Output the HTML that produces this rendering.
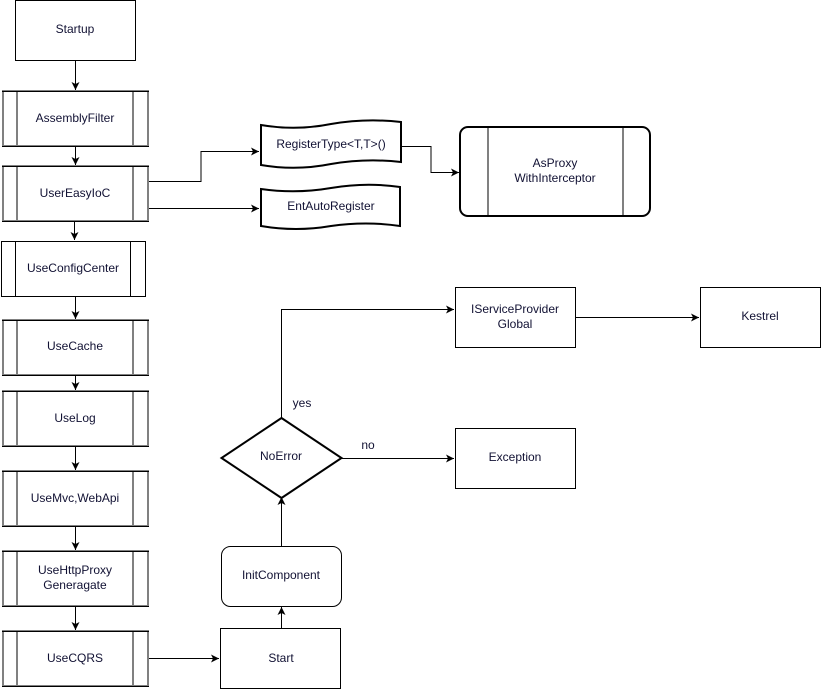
<!DOCTYPE html>
<html><head><meta charset="utf-8"><style>
html,body{margin:0;padding:0;background:#fff;}
svg{display:block;}
text{font-family:"Liberation Sans",sans-serif;font-size:12px;fill:#111133;text-anchor:middle;}
</style></head><body>
<svg width="821" height="690" viewBox="0 0 821 690" xmlns="http://www.w3.org/2000/svg">
<defs>
<marker id="a" markerWidth="10" markerHeight="10" refX="9" refY="5" orient="auto" markerUnits="userSpaceOnUse">
<path d="M1,1 L9,5 L1,9 L3,5 Z" fill="#000"/></marker>
</defs>
<g fill="none" stroke="#000" stroke-width="1">
<rect x="15.5" y="0.5" width="120" height="60"/>
<line x1="75.5" y1="60" x2="75.5" y2="90" marker-end="url(#a)"/>
<line x1="75.5" y1="146" x2="75.5" y2="165" marker-end="url(#a)"/>
<line x1="74.5" y1="221" x2="74.5" y2="240" marker-end="url(#a)"/>
<line x1="75.5" y1="296" x2="75.5" y2="319" marker-end="url(#a)"/>
<line x1="75.5" y1="375" x2="75.5" y2="390" marker-end="url(#a)"/>
<line x1="75.5" y1="446" x2="75.5" y2="470" marker-end="url(#a)"/>
<line x1="75.5" y1="526" x2="75.5" y2="550" marker-end="url(#a)"/>
<line x1="75.5" y1="606" x2="75.5" y2="630" marker-end="url(#a)"/>
<polyline points="148,181.5 201,181.5 201,151.5 259,151.5" marker-end="url(#a)"/>
<polyline points="148,208.5 259,208.5" marker-end="url(#a)"/>
<polyline points="402,146.5 431,146.5 431,172.5 459,172.5" marker-end="url(#a)"/>
<polyline points="148,658.5 219,658.5" marker-end="url(#a)"/>
<line x1="281.5" y1="628" x2="281.5" y2="607" marker-end="url(#a)"/>
<line x1="281.5" y1="546" x2="281.5" y2="497" marker-end="url(#a)"/>
<polyline points="281.5,418 281.5,309.5 454,309.5" marker-end="url(#a)"/>
<line x1="341" y1="458.5" x2="454" y2="458.5" marker-end="url(#a)"/>
<line x1="575" y1="317.5" x2="699" y2="317.5" marker-end="url(#a)"/>
</g>
<g fill="#fff" stroke="#808080" stroke-width="2">
<rect x="3" y="91" width="145" height="55"/><line x1="17" y1="91" x2="17" y2="146"/><line x1="133" y1="91" x2="133" y2="146"/>
<rect x="3" y="166" width="145" height="55"/><line x1="17" y1="166" x2="17" y2="221"/><line x1="133" y1="166" x2="133" y2="221"/>
<rect x="3" y="320" width="145" height="55"/><line x1="17" y1="320" x2="17" y2="375"/><line x1="133" y1="320" x2="133" y2="375"/>
<rect x="3" y="391" width="145" height="55"/><line x1="17" y1="391" x2="17" y2="446"/><line x1="133" y1="391" x2="133" y2="446"/>
<rect x="3" y="471" width="145" height="55"/><line x1="17" y1="471" x2="17" y2="526"/><line x1="133" y1="471" x2="133" y2="526"/>
<rect x="3" y="551" width="145" height="55"/><line x1="17" y1="551" x2="17" y2="606"/><line x1="133" y1="551" x2="133" y2="606"/>
<rect x="3" y="631" width="145" height="55"/><line x1="17" y1="631" x2="17" y2="686"/><line x1="133" y1="631" x2="133" y2="686"/>
</g>
<g stroke="#000" stroke-width="1">
<line x1="2" y1="91.5" x2="149" y2="91.5"/><line x1="2" y1="146.5" x2="149" y2="146.5"/>
<line x1="2" y1="166.5" x2="149" y2="166.5"/><line x1="2" y1="221.5" x2="149" y2="221.5"/>
<line x1="2" y1="320.5" x2="149" y2="320.5"/><line x1="2" y1="375.5" x2="149" y2="375.5"/>
<line x1="2" y1="391.5" x2="149" y2="391.5"/><line x1="2" y1="446.5" x2="149" y2="446.5"/>
<line x1="2" y1="471.5" x2="149" y2="471.5"/><line x1="2" y1="526.5" x2="149" y2="526.5"/>
<line x1="2" y1="551.5" x2="149" y2="551.5"/><line x1="2" y1="606.5" x2="149" y2="606.5"/>
<line x1="2" y1="631.5" x2="149" y2="631.5"/><line x1="2" y1="686.5" x2="149" y2="686.5"/>
</g>
<g fill="#fff" stroke="#000" stroke-width="1">
<rect x="1.5" y="241.5" width="144" height="55"/><line x1="15.5" y1="241.5" x2="15.5" y2="296.5"/><line x1="130.5" y1="241.5" x2="130.5" y2="296.5"/>
<rect x="220.5" y="628.5" width="120" height="60"/>
<rect x="221.5" y="546.5" width="120" height="60" rx="9"/>
<polygon points="281.5,418 341.5,458 281.5,498 221.5,458" stroke-width="2"/>
<rect x="455.5" y="428.5" width="120" height="60"/>
<rect x="455.5" y="287.5" width="120" height="60"/>
<rect x="700.5" y="287.5" width="120" height="60"/>
<path d="M261,125 Q296,131 331,124 Q366,118 401,122 L401,162 Q366,158 331,164 Q296,171 261,165 Z" stroke-width="2"/>
<path d="M261,189 Q296,194 331,188 Q366,182 400,187 L400,226 Q366,221 331,226 Q296,232 261,226 Z" stroke-width="2"/>
<rect x="460" y="127" width="190" height="89" rx="8" stroke-width="2"/>
<line x1="488" y1="127" x2="488" y2="216"/><line x1="623" y1="127" x2="623" y2="216"/>
</g>
<text x="75" y="33">Startup</text>
<text x="75" y="122">AssemblyFilter</text>
<text x="75" y="197">UserEasyIoC</text>
<text x="73" y="272">UseConfigCenter</text>
<text x="75" y="350">UseCache</text>
<text x="75" y="422">UseLog</text>
<text x="75" y="502">UseMvc,WebApi</text>
<text x="75" y="574">UseHttpProxy</text>
<text x="75" y="589">Generagate</text>
<text x="75" y="662">UseCQRS</text>
<text x="281" y="662">Start</text>
<text x="281" y="579">InitComponent</text>
<text x="281" y="460">NoError</text>
<text x="302" y="407">yes</text>
<text x="368" y="449">no</text>
<text x="515" y="461">Exception</text>
<text x="515" y="313">IServiceProvider</text>
<text x="515" y="328">Global</text>
<text x="760" y="320">Kestrel</text>
<text x="331" y="148">RegisterType&lt;T,T&gt;()</text>
<text x="331" y="210">EntAutoRegister</text>
<text x="555" y="167">AsProxy</text>
<text x="555" y="182">WithInterceptor</text>
</svg>
</body></html>
